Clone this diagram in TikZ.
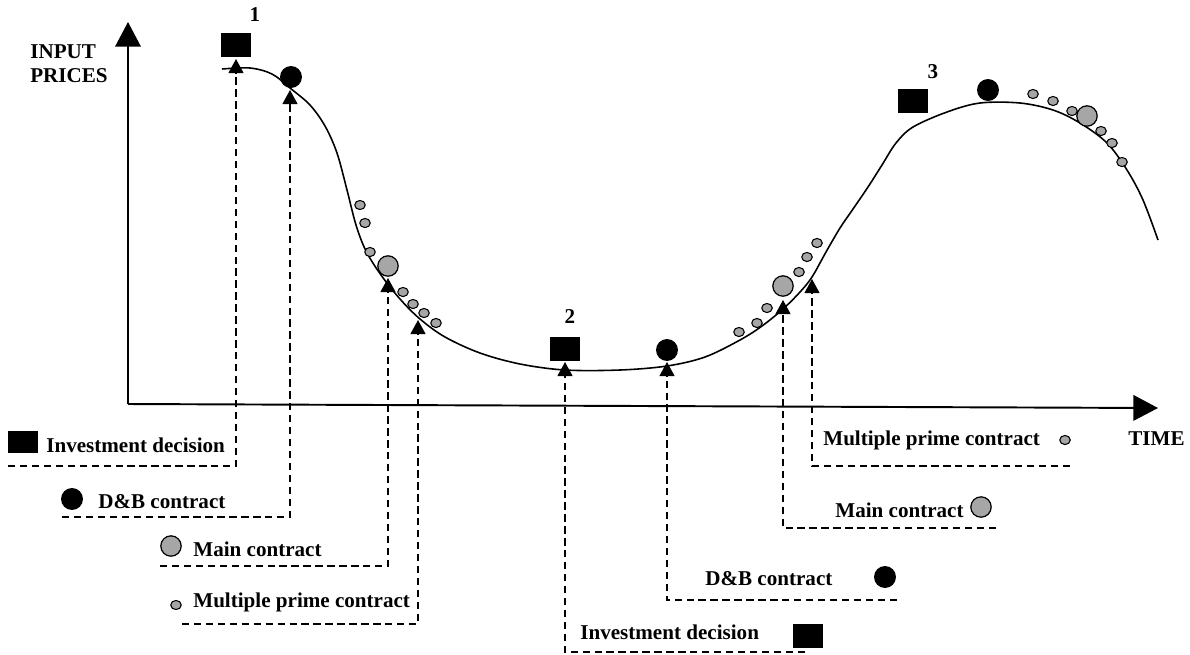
\documentclass[tikz,border=0pt]{standalone}
\usepackage{fontspec}
\setmainfont{Liberation Serif}
\usetikzlibrary{arrows.meta,shapes.geometric}
\definecolor{dotgray}{RGB}{166,166,166}
\begin{document}
\begin{tikzpicture}[x=0.02cm,y=-0.02cm,
  lbl/.style={inner sep=0pt, anchor=base west, font=\fontsize{12}{14}\selectfont\bfseries},
  num/.style={inner sep=0pt, font=\fontsize{12}{14}\selectfont\bfseries},
  sq/.style={rectangle, fill=black, minimum width=17.6pt, minimum height=14pt, inner sep=0pt},
  dbc/.style={circle, fill=black, minimum size=12.5pt, inner sep=0pt},
  mainc/.style={circle, fill=dotgray, draw=black, line width=0.7pt, minimum size=11.6pt, inner sep=0pt},
  mpc/.style={ellipse, fill=dotgray, draw=black, line width=0.6pt, minimum width=6pt, minimum height=5.2pt, inner sep=0pt},
  axis/.style={line width=1.1pt, -{Triangle[length=14pt,width=14.5pt]}},
  leader/.style={line width=0.85pt, dash pattern=on 4.2pt off 2.6pt, -{Triangle[length=8pt,width=8.5pt]}},
  price/.style={line width=0.9pt}]
\useasboundingbox (0,0) rectangle (1190,654);

% axes
\coordinate (O) at (128,404);
\coordinate (ytip) at (128,22);
\coordinate (xtip) at (1158,408);
\draw[axis] (O) -- (ytip);
\draw[axis] (O) -- (xtip);
\node[lbl] (ylab1) at (30,58) {INPUT};
\node[lbl] (ylab2) at (30,82) {PRICES};
\node[lbl] (xlab) at (1128,445) {TIME};

% price curve
\draw[price] plot[smooth, tension=0.55] coordinates {
  (222,69) (250,68) (272,74) (290,88) (310,105) (325,126) (337,153)
  (347,190) (356,225) (366,251) (381,275) (400,299) (420,319) (445,337)
  (480,353) (520,364) (565,370) (620,370) (667,366) (705,357)
  (740,340) (762,326) (783,309) (800,292) (812,277) (826,252) (840,228)
  (853,209) (868,187) (882,165) (896,143) (913,127) (947,112) (980,103)
  (1020,103) (1053,110) (1080,123) (1107,143) (1127,170) (1143,200) (1158,240)};

% cycle 1 markers
\node[num] (n1) at (255,15) {1};
\node[sq] (sq1) at (236,45) {};
\node[dbc] (db1) at (291,77) {};
\node[mpc] (a1) at (360,205) {};
\node[mpc] (a2) at (365,223) {};
\node[mpc] (a3) at (370,252) {};
\node[mainc] (mc1) at (388,266) {};
\node[mpc] (a4) at (403,292) {};
\node[mpc] (a5) at (413,304) {};
\node[mpc] (a6) at (424,313) {};
\node[mpc] (a7) at (436,323) {};

% cycle 2 markers
\node[num] (n2) at (570,317) {2};
\node[sq] (sq2) at (565,349) {};
\node[dbc] (db2) at (667,350) {};
\node[mpc] (b1) at (739,332) {};
\node[mpc] (b2) at (757,323) {};
\node[mpc] (b3) at (767,308) {};
\node[mainc] (mc2) at (783,286) {};
\node[mpc] (b4) at (799,272) {};
\node[mpc] (b5) at (807,257) {};
\node[mpc] (b6) at (817,243) {};

% cycle 3 markers
\node[num] (n3) at (933,72) {3};
\node[sq] (sq3) at (913,101) {};
\node[dbc] (db3) at (988,90) {};
\node[mpc] (c1) at (1033,94) {};
\node[mpc] (c2) at (1053,101) {};
\node[mpc] (c3) at (1072,111) {};
\node[mainc] (mc3) at (1087,116) {};
\node[mpc] (c4) at (1101,131) {};
\node[mpc] (c5) at (1112,143) {};
\node[mpc] (c6) at (1122,162) {};

% arrow tips under the marked points
\coordinate (t1) at (236,59);
\coordinate (t2) at (290,90);
\coordinate (t3) at (388,278);
\coordinate (t4) at (418,320);
\coordinate (t5) at (565,362);
\coordinate (t6) at (667,362);
\coordinate (t7) at (783,300);
\coordinate (t8) at (812,279);

% left legend
\node[sq, minimum height=13pt] (lsq) at (23,442) {};
\node[lbl] (ltx1) at (46,452) {Investment decision};
\coordinate (lu1) at (8,466);
\node[dbc] (ldb) at (72,499) {};
\node[lbl] (ltx2) at (98,508) {D\&B contract};
\coordinate (lu2) at (62,517);
\node[mainc] (lmc) at (171,546) {};
\node[lbl] (ltx3) at (193,556) {Main contract};
\coordinate (lu3) at (160,566);
\node[mpc] (lmp) at (176,605) {};
\node[lbl] (ltx4) at (193,607) {Multiple prime contract};
\coordinate (lu4) at (182,624);

% right legend
\node[lbl] (rtx4) at (823,445) {Multiple prime contract};
\node[mpc] (rmp) at (1065,440) {};
\coordinate (ru4) at (1070,466);
\node[lbl] (rtx3) at (835,517) {Main contract};
\node[mainc] (rmc) at (981,507) {};
\coordinate (ru3) at (996,528);
\node[lbl] (rtx2) at (705,585) {D\&B contract};
\node[dbc] (rdb) at (885,577) {};
\coordinate (ru2) at (897,600);
\node[lbl] (rtx1) at (580,639) {Investment decision};
\node[sq] (rsq) at (808,636) {};
\coordinate (ru1) at (805,652);

% leader lines
\draw[leader] (lu1) -| (t1);
\draw[leader] (lu2) -| (t2);
\draw[leader] (lu3) -| (t3);
\draw[leader] (lu4) -| (t4);
\draw[leader] (ru1) -| (t5);
\draw[leader] (ru2) -| (t6);
\draw[leader] (ru3) -| (t7);
\draw[leader] (ru4) -| (t8);
\end{tikzpicture}
\end{document}
